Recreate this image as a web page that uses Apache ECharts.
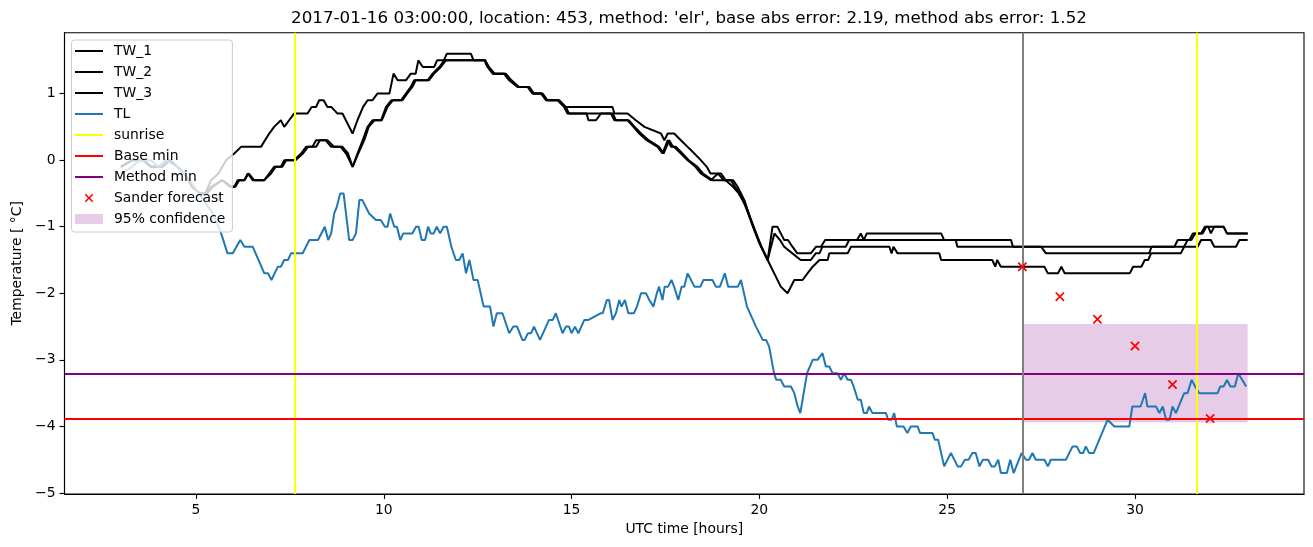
<!DOCTYPE html>
<html><head><meta charset="utf-8">
<script src="https://cdn.jsdelivr.net/npm/echarts@6/dist/echarts.min.js"></script>
<style>html,body{margin:0;padding:0;background:#fff}#c{width:1313px;height:547px}</style>
</head><body><div id="c"></div>
<script>
// ---------------- data ----------------
const tw1 = [[3.0,-0.1],[3.3,0.0],[3.6,0.0],[3.8,-0.1],[4.1,-0.1],[4.3,0.0],[4.5,-0.1],[4.7,-0.2],[4.9,-0.4],[5.1,-0.5],[5.25,-0.5],[5.4,-0.3],[5.6,-0.2],[5.8,0.0],[6.02,0.1],[6.2,0.2],[6.73,0.2],[6.95,0.4],[7.08,0.5],[7.26,0.6],[7.35,0.5],[7.48,0.6],[7.61,0.7],[7.97,0.7],[8.08,0.8],[8.2,0.8],[8.28,0.9],[8.4,0.9],[8.5,0.8],[8.6,0.8],[8.77,0.7],[8.9,0.7],[9.17,0.4],[9.3,0.6],[9.45,0.8],[9.57,0.9],[9.7,0.9],[9.83,1.0],[10.15,1.0],[10.26,1.3],[10.37,1.2],[10.59,1.2],[10.72,1.3],[10.85,1.3],[10.92,1.5],[11.04,1.4],[11.34,1.4],[11.42,1.5],[11.6,1.5],[11.68,1.6],[12.32,1.6],[12.39,1.5],[12.7,1.5],[12.78,1.4],[12.92,1.3],[13.22,1.3],[13.36,1.2],[13.58,1.1],[13.85,1.1],[13.98,1.0],[14.2,1.0],[14.34,0.9],[14.65,0.9],[14.81,0.8],[16.09,0.8],[16.14,0.7],[16.49,0.7],[16.71,0.6],[16.94,0.5],[17.38,0.4],[17.47,0.3],[17.56,0.4],[17.73,0.4],[17.91,0.3],[18.09,0.2],[18.27,0.1],[18.44,0.0],[18.6,-0.1],[18.7,-0.2],[18.98,-0.2],[19.1,-0.3],[19.3,-0.3],[19.42,-0.4],[19.6,-0.6],[19.8,-0.95],[20.0,-1.25],[20.22,-1.5],[20.35,-1.0],[20.48,-1.0],[20.57,-1.1],[20.66,-1.2],[20.76,-1.2],[20.88,-1.3],[21.01,-1.4],[21.37,-1.4],[21.51,-1.3],[21.64,-1.3],[21.75,-1.2],[22.6,-1.2],[22.7,-1.1],[22.78,-1.2],[22.86,-1.1],[24.84,-1.1],[24.92,-1.2],[26.7,-1.2],[26.75,-1.3],[31.05,-1.3],[31.14,-1.2],[31.45,-1.2],[31.54,-1.1],[31.76,-1.1],[31.86,-1.0],[31.95,-1.0],[32.02,-1.1],[32.11,-1.0],[32.36,-1.0],[32.45,-1.1],[33.0,-1.1]];

const tw2 = [[3.0,-0.1],[3.3,0.0],[3.6,0.0],[3.8,-0.1],[4.1,-0.1],[4.3,0.0],[4.5,-0.1],[4.7,-0.2],[4.9,-0.4],[5.1,-0.5],[5.25,-0.5],[5.4,-0.4],[5.7,-0.3],[5.9,-0.4],[6.02,-0.4],[6.11,-0.3],[6.29,-0.3],[6.38,-0.2],[6.51,-0.3],[6.82,-0.3],[6.95,-0.2],[7.08,-0.1],[7.26,-0.1],[7.35,0.0],[7.61,0.0],[7.8,0.1],[7.93,0.2],[8.1,0.2],[8.2,0.3],[8.5,0.3],[8.68,0.2],[8.85,0.2],[9.0,0.1],[9.17,-0.1],[9.3,0.1],[9.44,0.3],[9.57,0.5],[9.7,0.6],[9.93,0.6],[10.06,0.8],[10.2,0.9],[10.46,0.9],[10.59,1.0],[10.72,1.1],[10.81,1.2],[11.17,1.2],[11.3,1.3],[11.48,1.4],[11.61,1.5],[12.68,1.5],[12.76,1.4],[12.9,1.3],[13.2,1.3],[13.34,1.2],[13.56,1.1],[13.83,1.1],[13.96,1.0],[14.19,1.0],[14.32,0.9],[14.63,0.9],[14.8,0.8],[14.89,0.7],[15.4,0.7],[15.45,0.6],[15.65,0.6],[15.78,0.7],[16.05,0.7],[16.14,0.6],[16.49,0.6],[16.65,0.5],[16.8,0.4],[17.0,0.3],[17.29,0.2],[17.42,0.1],[17.56,0.3],[17.65,0.2],[17.73,0.2],[17.91,0.1],[18.09,0.0],[18.3,-0.1],[18.44,-0.2],[18.71,-0.3],[18.9,-0.2],[19.05,-0.3],[19.24,-0.3],[19.35,-0.4],[19.5,-0.5],[19.7,-0.8],[19.9,-1.1],[20.1,-1.35],[20.22,-1.5],[20.4,-1.1],[20.55,-1.2],[20.66,-1.3],[20.88,-1.4],[21.1,-1.5],[21.37,-1.5],[21.5,-1.4],[21.6,-1.4],[21.68,-1.3],[22.3,-1.3],[22.39,-1.2],[25.23,-1.2],[25.27,-1.3],[27.5,-1.3],[27.63,-1.4],[30.38,-1.4],[30.44,-1.3],[31.67,-1.3],[31.76,-1.2],[32.02,-1.2],[32.11,-1.3],[32.69,-1.3],[32.78,-1.2],[33.0,-1.2]];

const tw3 = [[3.0,-0.1],[3.3,0.0],[3.6,0.0],[3.8,-0.1],[4.1,-0.1],[4.3,0.0],[4.5,-0.1],[4.7,-0.2],[4.9,-0.4],[5.1,-0.5],[5.3,-0.5],[5.45,-0.4],[5.7,-0.3],[5.95,-0.4],[6.05,-0.4],[6.15,-0.3],[6.29,-0.3],[6.4,-0.2],[6.55,-0.3],[6.82,-0.3],[7.0,-0.2],[7.12,-0.1],[7.3,-0.1],[7.4,0.0],[7.65,0.0],[7.85,0.1],[7.98,0.2],[8.2,0.2],[8.3,0.3],[8.45,0.3],[8.6,0.2],[8.9,0.2],[9.05,0.1],[9.17,-0.1],[9.32,0.1],[9.48,0.3],[9.6,0.5],[9.75,0.6],[9.95,0.6],[10.1,0.8],[10.24,0.9],[10.5,0.9],[10.62,1.0],[10.76,1.1],[10.85,1.2],[11.2,1.2],[11.34,1.3],[11.52,1.4],[11.65,1.5],[12.7,1.5],[12.8,1.4],[12.95,1.3],[13.25,1.3],[13.4,1.2],[13.6,1.1],[13.88,1.1],[14.0,1.0],[14.23,1.0],[14.36,0.9],[14.67,0.9],[14.85,0.8],[14.93,0.7],[16.1,0.7],[16.18,0.6],[16.52,0.6],[16.68,0.5],[16.85,0.4],[17.05,0.3],[17.33,0.2],[17.45,0.1],[17.6,0.3],[17.7,0.2],[17.78,0.2],[17.95,0.1],[18.12,0.0],[18.35,-0.1],[18.5,-0.2],[18.75,-0.3],[18.95,-0.3],[19.1,-0.3],[19.3,-0.4],[19.45,-0.5],[19.65,-0.7],[19.85,-1.0],[20.05,-1.3],[20.22,-1.5],[20.57,-1.9],[20.75,-2.0],[20.93,-1.8],[21.15,-1.8],[21.28,-1.7],[21.42,-1.6],[21.6,-1.5],[21.82,-1.5],[21.86,-1.4],[22.35,-1.4],[22.44,-1.3],[23.46,-1.3],[23.52,-1.4],[23.57,-1.3],[23.68,-1.4],[24.79,-1.4],[24.84,-1.5],[26.2,-1.5],[26.28,-1.6],[26.33,-1.5],[26.43,-1.6],[27.59,-1.6],[27.68,-1.7],[27.95,-1.7],[28.04,-1.6],[28.13,-1.7],[29.86,-1.7],[29.95,-1.6],[30.17,-1.6],[30.26,-1.5],[30.35,-1.5],[30.43,-1.4],[31.22,-1.4],[31.31,-1.3],[31.4,-1.2],[31.5,-1.2],[31.6,-1.1],[31.8,-1.1],[31.9,-1.0],[32.36,-1.0],[32.45,-1.1],[33.0,-1.1]];

const tl = [[3.0,-0.2],[3.3,-0.1],[3.5,0.0],[3.8,0.0],[4.0,-0.1],[4.2,0.0],[4.5,-0.1],[4.7,-0.2],[4.95,-0.4],[5.2,-0.6],[5.45,-0.8],[5.6,-1.0],[5.67,-1.1],[5.84,-1.4],[5.98,-1.4],[6.18,-1.2],[6.29,-1.3],[6.51,-1.3],[6.82,-1.7],[6.92,-1.7],[7.01,-1.8],[7.18,-1.6],[7.26,-1.6],[7.35,-1.5],[7.45,-1.5],[7.53,-1.4],[7.84,-1.4],[8.02,-1.2],[8.25,-1.2],[8.43,-1.0],[8.52,-1.2],[8.6,-1.1],[8.68,-0.8],[8.75,-0.7],[8.84,-0.5],[8.93,-0.5],[9.08,-1.2],[9.17,-1.2],[9.26,-1.1],[9.35,-0.6],[9.43,-0.6],[9.61,-0.8],[9.79,-0.9],[9.92,-0.9],[10.03,-1.0],[10.1,-1.0],[10.17,-0.8],[10.28,-1.0],[10.35,-1.0],[10.44,-1.2],[10.52,-1.1],[10.76,-1.1],[10.86,-1.0],[10.93,-1.0],[11.01,-1.2],[11.1,-1.2],[11.18,-1.0],[11.25,-1.1],[11.33,-1.1],[11.41,-1.0],[11.5,-1.1],[11.59,-1.0],[11.68,-1.0],[11.8,-1.3],[11.92,-1.5],[12.01,-1.5],[12.1,-1.4],[12.19,-1.7],[12.28,-1.5],[12.39,-1.8],[12.5,-1.8],[12.66,-2.2],[12.83,-2.2],[12.92,-2.5],[13.01,-2.3],[13.16,-2.3],[13.34,-2.6],[13.45,-2.5],[13.55,-2.5],[13.69,-2.7],[13.75,-2.7],[13.84,-2.6],[13.92,-2.6],[14.0,-2.5],[14.16,-2.7],[14.4,-2.4],[14.5,-2.4],[14.58,-2.3],[14.76,-2.6],[14.85,-2.5],[14.93,-2.5],[15.0,-2.6],[15.09,-2.5],[15.18,-2.6],[15.34,-2.4],[15.45,-2.4],[15.77,-2.3],[15.83,-2.3],[15.94,-2.1],[16.0,-2.1],[16.09,-2.4],[16.18,-2.3],[16.27,-2.1],[16.33,-2.2],[16.42,-2.1],[16.51,-2.3],[16.66,-2.3],[16.74,-2.2],[16.85,-2.0],[16.98,-2.0],[17.07,-2.1],[17.18,-2.2],[17.27,-2.0],[17.33,-1.9],[17.42,-2.1],[17.48,-1.9],[17.57,-1.9],[17.66,-1.8],[17.73,-1.9],[17.84,-2.1],[17.93,-1.9],[18.0,-1.9],[18.09,-1.7],[18.18,-1.8],[18.27,-1.9],[18.43,-1.9],[18.51,-1.8],[18.75,-1.8],[18.84,-1.9],[18.95,-1.9],[19.08,-1.7],[19.17,-1.9],[19.43,-1.9],[19.51,-1.8],[19.67,-2.2],[19.91,-2.5],[20.09,-2.7],[20.18,-2.7],[20.26,-2.8],[20.39,-3.2],[20.45,-3.3],[20.57,-3.3],[20.66,-3.4],[20.84,-3.4],[20.93,-3.5],[21.02,-3.7],[21.09,-3.8],[21.27,-3.2],[21.42,-3.0],[21.55,-3.0],[21.68,-2.9],[21.77,-3.1],[21.86,-3.1],[21.95,-3.2],[22.08,-3.2],[22.17,-3.3],[22.26,-3.2],[22.35,-3.3],[22.44,-3.3],[22.51,-3.4],[22.62,-3.6],[22.7,-3.6],[22.78,-3.8],[22.86,-3.8],[22.92,-3.7],[23.01,-3.8],[23.37,-3.8],[23.43,-3.9],[23.52,-3.9],[23.59,-3.8],[23.66,-4.0],[23.84,-4.0],[23.94,-4.1],[24.03,-4.0],[24.21,-4.0],[24.28,-4.1],[24.61,-4.1],[24.67,-4.2],[24.76,-4.2],[24.92,-4.6],[25.1,-4.4],[25.28,-4.6],[25.37,-4.6],[25.47,-4.5],[25.57,-4.5],[25.67,-4.4],[25.76,-4.4],[25.86,-4.6],[25.95,-4.5],[26.09,-4.5],[26.18,-4.6],[26.27,-4.6],[26.36,-4.5],[26.43,-4.7],[26.59,-4.7],[26.68,-4.5],[26.77,-4.7],[26.98,-4.4],[27.1,-4.5],[27.18,-4.5],[27.27,-4.4],[27.36,-4.5],[27.59,-4.5],[27.68,-4.6],[27.76,-4.5],[28.16,-4.5],[28.34,-4.3],[28.45,-4.3],[28.54,-4.4],[28.62,-4.4],[28.69,-4.3],[28.78,-4.4],[28.9,-4.4],[29.27,-3.9],[29.45,-4.0],[29.85,-4.0],[29.93,-3.7],[30.15,-3.7],[30.27,-3.5],[30.33,-3.7],[30.56,-3.7],[30.65,-3.8],[30.74,-3.7],[30.83,-3.9],[30.92,-3.9],[31.0,-3.7],[31.09,-3.8],[31.31,-3.5],[31.4,-3.5],[31.51,-3.3],[31.6,-3.4],[31.71,-3.5],[32.2,-3.5],[32.27,-3.4],[32.36,-3.4],[32.45,-3.3],[32.54,-3.4],[32.66,-3.4],[32.75,-3.2],[32.96,-3.4]];

const forecastHours = [27, 28, 29, 30, 31, 32];
const forecastTemps = [-1.6, -2.05, -2.39, -2.79, -3.37, -3.88];
const sunriseHours = [7.63, 31.65];
const forecastStart = 27;
const baseMin = -3.877;
const methodMin = -3.21;
const confidenceHours = [27, 33];
const confidenceTemps = [-2.46, -3.94];
const xTicks = [5, 10, 15, 20, 25, 30];
const yTicks = [-5, -4, -3, -2, -1, 0, 1];
const xRange = [1.5, 34.5];
const yRange = [-5.015, 1.915];
const titleText = "2017-01-16 03:00:00, location: 453, method: 'elr', base abs error: 2.19, method abs error: 1.52";

// ---------------- chart ----------------
const FONT = 'DejaVu Sans';
const X_SYM = 'path://M0,1.3L1.3,0L5,3.7L8.7,0L10,1.3L6.3,5L10,8.7L8.7,10L5,6.3L1.3,10L0,8.7L3.7,5Z';
const X_LEG = 'path://M-3.25,-3.25L-3.25,-3.25M0,1.3L1.3,0L5,3.7L8.7,0L10,1.3L6.3,5L10,8.7L8.7,10L5,6.3L1.3,10L0,8.7L3.7,5ZM13.25,13.25L13.25,13.25';
const LINE_LEG = 'path://M0,-6L0,-6M0,0L28,0L28,2L0,2ZM28,8L28,8';
const RECT_LEG = 'path://M0,-2L0,-2M0,0L28,0L28,10L0,10ZM28,12L28,12';
const minus = v => String(v).replace('-', '\u2212');

const chart = echarts.init(document.getElementById('c'), null, {renderer: 'canvas'});

function lineSeries(name, data, color) {
  return {name, type: 'line', data, symbol: 'none', showSymbol: false, silent: true,
    z: 3, itemStyle: {color}, lineStyle: {color, width: 2}, emphasis: {disabled: true}};
}
function markSeries(name, color, lines) {
  return {name, type: 'line', data: [], symbol: 'none', silent: true, z: 4,
    itemStyle: {color}, lineStyle: {color, width: 2},
    markLine: {silent: true, symbol: ['none', 'none'], label: {show: false}, animation: false,
      lineStyle: {color, width: 2, type: 'solid'}, emphasis: {disabled: true}, data: lines}};
}

const option = {
  animation: false,
  backgroundColor: '#fff',
  title: {text: titleText, left: 684, top: 5, textAlign: 'center',
    textStyle: {fontFamily: FONT, fontSize: 16.7, fontWeight: 'normal', color: '#000'}},
  grid: {left: 64.5, top: 32.7, right: 9, bottom: 53, show: true, borderColor: '#000', borderWidth: 1.1,
    backgroundColor: 'transparent', containLabel: false, outerBoundsMode: 'none'},
  xAxis: {type: 'value', min: xRange[0], max: xRange[1],
    name: 'UTC time [hours]', nameLocation: 'middle', nameGap: 28,
    nameTextStyle: {fontFamily: FONT, fontSize: 13.9, color: '#000'},
    axisLine: {show: true, onZero: false, lineStyle: {color: '#000', width: 1.1}},
    axisTick: {show: true, length: 5, lineStyle: {color: '#000', width: 1.1}, customValues: xTicks},
    axisLabel: {customValues: xTicks, margin: 9, fontFamily: FONT, fontSize: 13.9, color: '#000', formatter: minus},
    splitLine: {show: false}},
  yAxis: {type: 'value', min: yRange[0], max: yRange[1],
    name: 'Temperature [ \u00b0C]', nameLocation: 'middle', nameGap: 39, nameRotate: 90,
    nameTextStyle: {fontFamily: FONT, fontSize: 13.9, color: '#000'},
    axisLine: {show: true, onZero: false, lineStyle: {color: '#000', width: 1.1}},
    axisTick: {show: true, length: 5, lineStyle: {color: '#000', width: 1.1}, customValues: yTicks},
    axisLabel: {customValues: yTicks, margin: 9, fontFamily: FONT, fontSize: 13.9, color: '#000', formatter: minus},
    splitLine: {show: false}},
  legend: {
    orient: 'vertical', left: 71.5, top: 40, padding: [4, 7, 6, 3.5],
    itemWidth: 28, itemHeight: 14, itemGap: 7, selectedMode: false,
    backgroundColor: 'rgba(255,255,255,0.8)', borderColor: '#cccccc', borderWidth: 1, borderRadius: 3,
    textStyle: {fontFamily: FONT, fontSize: 13.9, color: '#000', lineHeight: 14, padding: [0, 0, 0, 6]},
    data: [
      {name: 'TW_1', icon: LINE_LEG}, {name: 'TW_2', icon: LINE_LEG}, {name: 'TW_3', icon: LINE_LEG},
      {name: 'TL', icon: LINE_LEG}, {name: 'sunrise', icon: LINE_LEG}, {name: 'Base min', icon: LINE_LEG},
      {name: 'Method min', icon: LINE_LEG}, {name: 'Sander forecast', icon: X_LEG},
      {name: '95% confidence', icon: RECT_LEG}
    ]
  },
  series: [
    {name: '95% confidence', type: 'line', data: [], symbol: 'none', silent: true, z: 1,
      itemStyle: {color: 'rgba(128,0,128,0.2)'}, lineStyle: {color: 'rgba(128,0,128,0.2)'},
      markArea: {silent: true, itemStyle: {color: 'rgba(128,0,128,0.2)'}, label: {show: false}, emphasis: {disabled: true},
        data: [[{xAxis: confidenceHours[0], yAxis: confidenceTemps[0]}, {xAxis: confidenceHours[1], yAxis: confidenceTemps[1]}]]}},
    lineSeries('TW_1', tw1, '#000000'),
    lineSeries('TW_2', tw2, '#000000'),
    lineSeries('TW_3', tw3, '#000000'),
    lineSeries('TL', tl, '#1f77b4'),
    markSeries('sunrise', '#ffff00', sunriseHours.map(h => ({xAxis: h}))),
    markSeries('Base min', '#ff0000', [{yAxis: baseMin}]),
    markSeries('Method min', '#800080', [{yAxis: methodMin}]),
    markSeries('forecast time', '#808080', [{xAxis: forecastStart}]),
    {name: 'Sander forecast', type: 'scatter', silent: true, z: 5, symbol: X_SYM, symbolSize: 9.5,
      itemStyle: {color: '#ff0000', opacity: 1}, emphasis: {disabled: true},
      data: forecastHours.map((h, i) => [h, forecastTemps[i]])}
  ]
};
chart.setOption(option);
</script>
</body></html>
